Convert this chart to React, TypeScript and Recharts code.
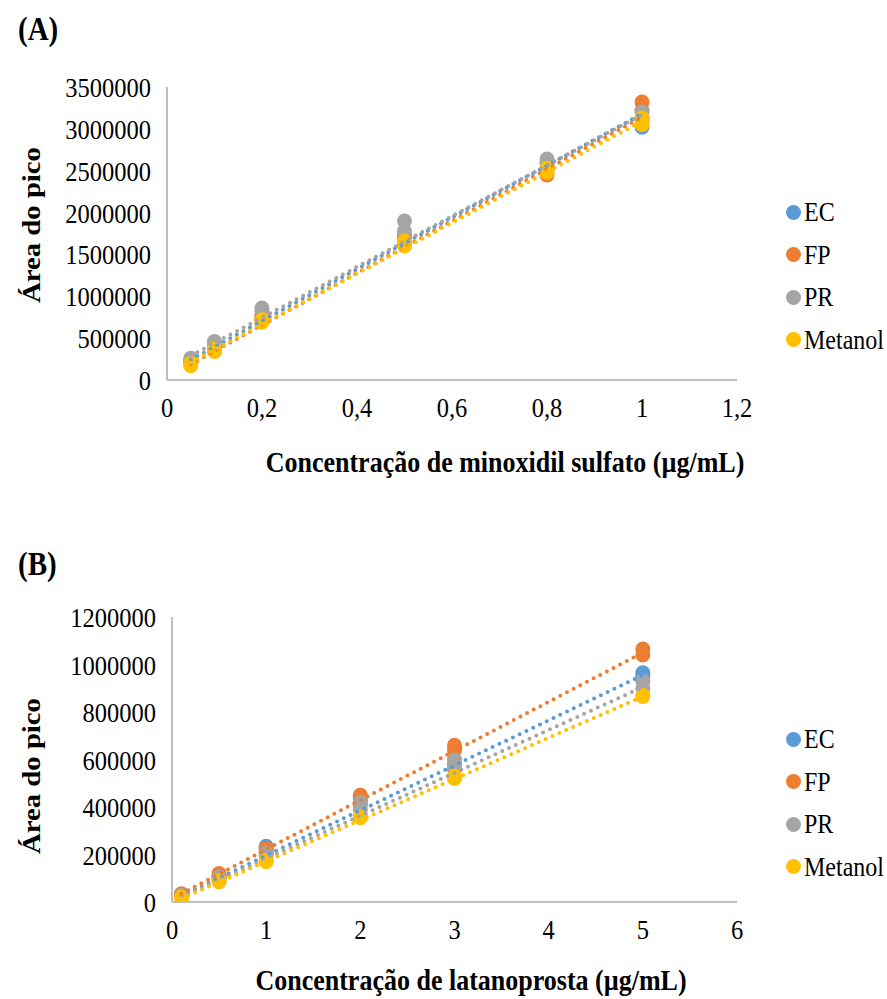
import React from 'react';
import { ScatterChart, Scatter, XAxis, YAxis } from 'recharts';

const seriesNames = ['EC', 'FP', 'PR', 'Metanol'];
const seriesColors = ['#5B9BD5', '#ED7D31', '#A5A5A5', '#FFC000'];

// (A) minoxidil sulfato
const concA = [0.05, 0.05, 0.1, 0.1, 0.2, 0.2, 0.5, 0.5, 0.8, 0.8, 1, 1];
const ecA = [200000, 230000, 350000, 390000, 720000, 770000, 1650000, 1730000, 2520000, 2590000, 3020000, 3120000];
const fpA = [200000, 220000, 360000, 380000, 730000, 760000, 1620000, 1680000, 2450000, 2500000, 3220000, 3320000];
const prA = [230000, 260000, 420000, 460000, 820000, 860000, 1780000, 1900000, 2600000, 2640000, 3100000, 3200000];
const metA = [170000, 200000, 340000, 370000, 690000, 720000, 1600000, 1660000, 2480000, 2530000, 3050000, 3130000];
const trendXA = [0.05, 1];
const trendEcA = [240000, 3180000];
const trendFpA = [190000, 3140000];
const trendPrA = [290000, 3170000];
const trendMetA = [210000, 3090000];
const xTicksA = [0, 0.2, 0.4, 0.6, 0.8, 1, 1.2];
const yTicksA = [0, 500000, 1000000, 1500000, 2000000, 2500000, 3000000, 3500000];

// (B) latanoprosta
const concB = [0.1, 0.1, 0.5, 0.5, 1, 1, 2, 2, 3, 3, 5, 5];
const ecB = [30000, 25000, 110000, 100000, 235000, 220000, 440000, 410000, 580000, 560000, 965000, 950000];
const fpB = [35000, 30000, 120000, 110000, 225000, 210000, 450000, 430000, 660000, 640000, 1065000, 1040000];
const prB = [28000, 22000, 105000, 95000, 205000, 195000, 420000, 390000, 600000, 570000, 930000, 900000];
const metB = [20000, 15000, 88000, 85000, 175000, 170000, 360000, 355000, 530000, 520000, 870000, 865000];
const trendXB = [0.1, 5];
const trendEcB = [25000, 955000];
const trendFpB = [35000, 1050000];
const trendPrB = [20000, 905000];
const trendMetB = [15000, 865000];
const xTicksB = [0, 1, 2, 3, 4, 5, 6];
const yTicksB = [0, 200000, 400000, 600000, 800000, 1000000, 1200000];

const font = '"Liberation Serif", "Times New Roman", serif';
const stretch = 1.15; // the reference text is a little taller than wide

const toPoints = (xs: number[], ys: number[]) => xs.map((x, i) => ({ x, y: ys[i] }));

const Dot = (props: any) => {
    const { cx, cy, fill } = props;
    if (cx == null || cy == null) return <g />;
    return <circle cx={cx} cy={cy} r={7.5} fill={fill} />;
};

const NoDot = () => <g />;

const XTick = (props: any) => {
    const { x, y, payload } = props;
    return (
        <text
            transform={`translate(${x},${y}) scale(1,${stretch})`}
            textAnchor="middle"
            dy="0.71em"
            fontFamily={font}
            fontSize={24.5}
            fill="#000"
        >
            {String(payload.value).replace('.', ',')}
        </text>
    );
};

const YTick = (props: any) => {
    const { x, y, payload } = props;
    return (
        <text
            transform={`translate(${x},${y}) scale(1,${stretch})`}
            textAnchor="end"
            dy="0.355em"
            fontFamily={font}
            fontSize={24.5}
            fill="#000"
        >
            {payload.value}
        </text>
    );
};

type PanelProps = {
    top: number;
    height: number;
    plotTop: number;
    plotBottom: number;
    plotLeft: number;
    xs: number[];
    values: number[][];
    trendX: number[];
    trends: number[][];
    xDomain: [number, number];
    yDomain: [number, number];
    xTicks: number[];
    yTicks: number[];
    tag: string;
    tagTop: number;
    xLabel: string;
    xLabelTop: number;
    xLabelLeft: number;
    yLabelCenter: number;
    legendTop: number;
};

const Panel: React.FC<PanelProps> = (p) => {
    return (
        <div style={{ position: 'absolute', left: 0, top: p.top, width: 887, height: p.height, fontFamily: font }}>
            <ScatterChart
                width={887}
                height={p.height}
                margin={{ top: p.plotTop, right: 150, bottom: p.height - p.plotBottom - 30, left: 0 }}
            >
                <XAxis
                    type="number"
                    dataKey="x"
                    domain={p.xDomain}
                    ticks={p.xTicks}
                    height={30}
                    tickSize={0}
                    tickMargin={17}
                    axisLine={{ stroke: '#bfbfbf', strokeWidth: 2 }}
                    tick={XTick}
                    allowDataOverflow
                />
                <YAxis
                    type="number"
                    dataKey="y"
                    domain={p.yDomain}
                    ticks={p.yTicks}
                    width={p.plotLeft}
                    tickSize={0}
                    tickMargin={16}
                    axisLine={{ stroke: '#bfbfbf', strokeWidth: 2 }}
                    tick={YTick}
                    allowDataOverflow
                />
                {p.values.map((vals, i) => (
                    <Scatter
                        key={seriesNames[i]}
                        name={seriesNames[i]}
                        data={toPoints(p.xs, vals)}
                        fill={seriesColors[i]}
                        shape={Dot}
                        isAnimationActive={false}
                    />
                ))}
                {p.trends.map((vals, i) => (
                    <Scatter
                        key={'t' + seriesNames[i]}
                        data={toPoints(p.trendX, vals)}
                        fill={seriesColors[i]}
                        line={{ stroke: seriesColors[i], strokeWidth: 4, strokeDasharray: '0 7.5', strokeLinecap: 'round' }}
                        shape={NoDot}
                        isAnimationActive={false}
                    />
                ))}
            </ScatterChart>
            <div
                style={{
                    position: 'absolute',
                    left: 18,
                    top: p.tagTop,
                    fontSize: 29,
                    fontWeight: 'bold',
                    lineHeight: 1,
                    transform: `scaleY(${stretch})`,
                    transformOrigin: 'left center',
                }}
            >
                {p.tag}
            </div>
            <div
                style={{
                    position: 'absolute',
                    left: 31,
                    top: p.yLabelCenter,
                    transform: `translate(-50%, -50%) rotate(-90deg) scaleX(${stretch})`,
                    fontSize: 25,
                    fontWeight: 'bold',
                    whiteSpace: 'nowrap',
                    lineHeight: 1,
                }}
            >
                Área do pico
            </div>
            <div
                style={{
                    position: 'absolute',
                    left: p.xLabelLeft,
                    top: p.xLabelTop,
                    transform: `translate(-50%, -50%) scaleY(${stretch})`,
                    fontSize: 26,
                    fontWeight: 'bold',
                    whiteSpace: 'nowrap',
                    lineHeight: 1.1,
                }}
            >
                {p.xLabel}
            </div>
            {seriesNames.map((n, i) => (
                <div
                    key={n}
                    style={{
                        position: 'absolute',
                        left: 786,
                        top: p.legendTop + i * 42.5,
                        display: 'flex',
                        alignItems: 'center',
                        fontSize: 24,
                        lineHeight: 1,
                    }}
                >
                    <span
                        style={{
                            display: 'inline-block',
                            width: 15,
                            height: 15,
                            borderRadius: '50%',
                            background: seriesColors[i],
                            marginRight: 3,
                        }}
                    />
                    <span style={{ display: 'inline-block', transform: `scaleY(${stretch})` }}>{n}</span>
                </div>
            ))}
        </div>
    );
};

export default function App() {
    return (
        <div style={{ position: 'absolute', left: 0, top: 0, width: 887, height: 999, background: '#fff' }}>
            <Panel
                top={0}
                height={500}
                plotTop={87}
                plotBottom={380}
                plotLeft={167}
                xs={concA}
                values={[ecA, fpA, prA, metA]}
                trendX={trendXA}
                trends={[trendEcA, trendFpA, trendPrA, trendMetA]}
                xDomain={[0, 1.2]}
                yDomain={[0, 3500000]}
                xTicks={xTicksA}
                yTicks={yTicksA}
                tag="(A)"
                tagTop={15}
                xLabel="Concentração de minoxidil sulfato (µg/mL)"
                xLabelTop={463}
                xLabelLeft={505}
                yLabelCenter={225}
                legendTop={200}
            />
            <Panel
                top={500}
                height={499}
                plotTop={117}
                plotBottom={402}
                plotLeft={172}
                xs={concB}
                values={[ecB, fpB, prB, metB]}
                trendX={trendXB}
                trends={[trendEcB, trendFpB, trendPrB, trendMetB]}
                xDomain={[0, 6]}
                yDomain={[0, 1200000]}
                xTicks={xTicksB}
                yTicks={yTicksB}
                tag="(B)"
                tagTop={50}
                xLabel="Concentração de latanoprosta (µg/mL)"
                xLabelTop={481}
                xLabelLeft={471}
                yLabelCenter={276}
                legendTop={227}
            />
        </div>
    );
}
